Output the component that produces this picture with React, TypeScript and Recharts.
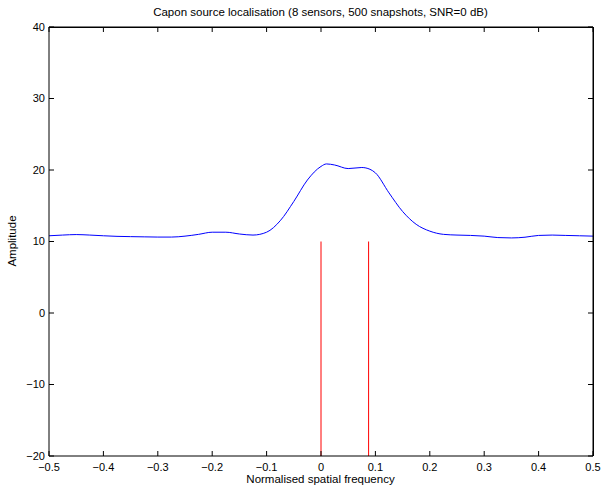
import React from 'react';
import {
  LineChart,
  Line,
  XAxis,
  YAxis,
  ReferenceLine,
} from 'recharts';

// spectrum (normalised spatial frequency -> amplitude)
const freq: number[] = [
  -0.5, -0.475, -0.45, -0.425, -0.4, -0.375, -0.35, -0.325, -0.3, -0.275,
  -0.25, -0.225, -0.2, -0.175, -0.15, -0.125, -0.1, -0.075, -0.05, -0.025,
  0, 0.01, 0.025, 0.05, 0.075, 0.09, 0.1, 0.125, 0.15, 0.175,
  0.2, 0.225, 0.25, 0.275, 0.3, 0.325, 0.35, 0.375, 0.4, 0.425,
  0.45, 0.475, 0.5,
];
const amplitude: number[] = [
  10.8, 10.9, 10.97, 10.9, 10.8, 10.72, 10.68, 10.65, 10.62, 10.62,
  10.75, 11.0, 11.3, 11.3, 11.05, 10.9, 11.3, 12.9, 15.6, 18.6,
  20.5, 20.85, 20.7, 20.2, 20.35, 20.1, 19.6, 16.8, 14.2, 12.4,
  11.45, 11.0, 10.9, 10.85, 10.75, 10.55, 10.5, 10.6, 10.85, 10.9,
  10.85, 10.8, 10.75,
];

// true source positions, drawn as stems
const sourceFreq: number[] = [0, 0.0875];
const stemTop = 10;
const stemBottom = -20;

const xTicks: number[] = [-0.5, -0.4, -0.3, -0.2, -0.1, 0, 0.1, 0.2, 0.3, 0.4, 0.5];
const yTicks: number[] = [-20, -10, 0, 10, 20, 30, 40];
const xDomain: [number, number] = [-0.5, 0.5];
const yDomain: [number, number] = [-20, 40];

const data = freq.map((f, i) => ({ f, a: amplitude[i] }));

const fmt = (v: number) => {
  const s = Math.abs(v) < 1e-9 ? '0' : String(Math.round(v * 10) / 10);
  return s.replace('-', '\u2212');
};
const blank = () => '';

const font = '"Liberation Sans", Arial, Helvetica, sans-serif';
const tickStyle = { fill: '#000', fontSize: 11, fontFamily: font };
const textCss: React.CSSProperties = {
  position: 'absolute',
  fontFamily: font,
  fontSize: 11.5,
  color: '#000',
  whiteSpace: 'nowrap',
  lineHeight: '14px',
  zIndex: 2,
};

export default function App() {
  return (
    <div
      style={{
        position: 'fixed',
        top: 0,
        left: 0,
        width: 603,
        height: 487,
        overflow: 'hidden',
        background: '#fff',
      }}
    >
      <LineChart
        width={603}
        height={487}
        data={data}
        margin={{ top: 26, right: 9, bottom: 0, left: 0 }}
      >
        <XAxis
          xAxisId="b"
          dataKey="f"
          type="number"
          domain={xDomain}
          ticks={xTicks}
          interval={0}
          tickFormatter={fmt}
          tickSize={-5}
          tickMargin={12}
          height={31}
          stroke="#000"
          tick={tickStyle}
          allowDataOverflow
        />
        <XAxis
          xAxisId="t"
          dataKey="f"
          orientation="top"
          type="number"
          domain={xDomain}
          ticks={xTicks}
          interval={0}
          tickFormatter={blank}
          tickSize={-5}
          height={1}
          stroke="#000"
          allowDataOverflow
        />
        <YAxis
          yAxisId="l"
          type="number"
          domain={yDomain}
          ticks={yTicks}
          interval={0}
          tickFormatter={fmt}
          tickSize={-5}
          tickMargin={9}
          width={49}
          stroke="#000"
          tick={tickStyle}
          allowDataOverflow
        />
        <YAxis
          yAxisId="r"
          orientation="right"
          type="number"
          domain={yDomain}
          ticks={yTicks}
          interval={0}
          tickFormatter={blank}
          tickSize={-5}
          width={1}
          stroke="#000"
          allowDataOverflow
        />
        {sourceFreq.map((s) => (
          <ReferenceLine
            key={s}
            xAxisId="b"
            yAxisId="l"
            segment={[
              { x: s, y: stemBottom },
              { x: s, y: stemTop },
            ]}
            stroke="#ff0000"
            strokeWidth={1}
            ifOverflow="visible"
          />
        ))}
        {/* invisible copy so the top and right axes have a series */}
        <Line
          xAxisId="t"
          yAxisId="r"
          type="monotone"
          dataKey="a"
          stroke="none"
          dot={false}
          activeDot={false}
          isAnimationActive={false}
        />
        <Line
          xAxisId="b"
          yAxisId="l"
          type="monotone"
          dataKey="a"
          stroke="#0000ff"
          strokeWidth={1}
          dot={false}
          activeDot={false}
          isAnimationActive={false}
        />
      </LineChart>

      {/* frame on top and right */}
      <div
        style={{
          position: 'absolute',
          left: 49,
          top: 27,
          width: 545,
          height: 429,
          borderTop: '1px solid #000',
          borderRight: '1px solid #000',
          boxSizing: 'border-box',
          pointerEvents: 'none',
          zIndex: 3,
        }}
      />

      {/* title and axis labels */}
      <div style={{ ...textCss, top: 5, left: 48, width: 545, textAlign: 'center' }}>
        Capon source localisation (8 sensors, 500 snapshots, SNR=0 dB)
      </div>
      <div style={{ ...textCss, top: 472, left: 48, width: 545, textAlign: 'center' }}>
        Normalised spatial frequency
      </div>
      <div
        style={{
          ...textCss,
          top: 234,
          left: 12,
          width: 100,
          marginLeft: -50,
          textAlign: 'center',
          transform: 'rotate(-90deg)',
        }}
      >
        Amplitude
      </div>
    </div>
  );
}
